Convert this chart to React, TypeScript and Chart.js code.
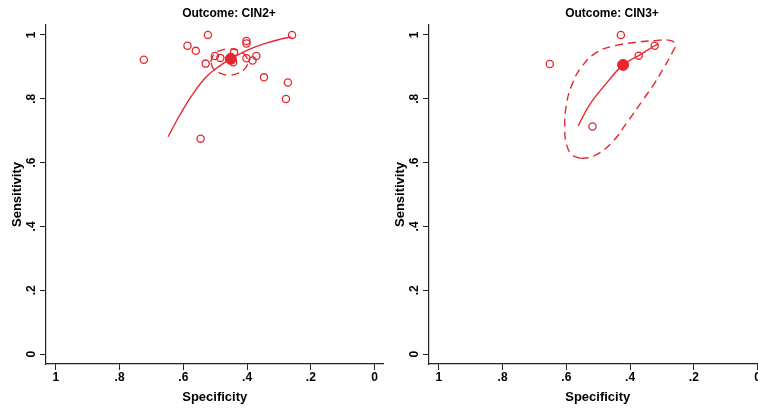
import React, { useEffect, useRef } from "react";
import { Chart, registerables } from "chart.js";

Chart.register(...registerables);

const RED = "#e8262d";
const FONT = "'Liberation Sans', Arial, sans-serif";

const tickValues = [0, 0.2, 0.4, 0.6, 0.8, 1];
const tickLabels = ["0", ".2", ".4", ".6", ".8", "1"];
const panelTitles = ["Outcome: CIN2+", "Outcome: CIN3+"];
const xAxisTitle = "Specificity";
const yAxisTitle = "Sensitivity";

// ---- Outcome: CIN2+ ----
const cin2StudySpec = [0.724, 0.523, 0.587, 0.561, 0.53, 0.501, 0.484, 0.441, 0.444, 0.402, 0.402, 0.402, 0.383, 0.371, 0.347, 0.272, 0.278, 0.259, 0.546];
const cin2StudySens = [0.922, 1.0, 0.966, 0.95, 0.91, 0.934, 0.928, 0.946, 0.914, 0.981, 0.973, 0.927, 0.92, 0.934, 0.867, 0.851, 0.799, 1.0, 0.675];
const cin2SummarySpec = [0.451];
const cin2SummarySens = [0.925];
const cin2CurveSpec = [0.648, 0.611, 0.57, 0.528, 0.486, 0.452, 0.402, 0.35, 0.298, 0.261];
const cin2CurveSens = [0.681, 0.749, 0.815, 0.869, 0.903, 0.925, 0.951, 0.971, 0.986, 0.994];
const cin2RegionSpec = [0.514, 0.506, 0.485, 0.456, 0.427, 0.406, 0.398, 0.406, 0.427, 0.456, 0.485, 0.506, 0.514];
const cin2RegionSens = [0.915, 0.936, 0.951, 0.956, 0.951, 0.936, 0.915, 0.895, 0.88, 0.874, 0.88, 0.895, 0.915];

// ---- Outcome: CIN3+ ----
const cin3StudySpec = [0.429, 0.652, 0.373, 0.323, 0.518];
const cin3StudySens = [1.0, 0.909, 0.935, 0.966, 0.713];
const cin3SummarySpec = [0.422];
const cin3SummarySens = [0.906];
const cin3CurveSpec = [0.563, 0.527, 0.474, 0.422, 0.373, 0.323, 0.312];
const cin3CurveSens = [0.715, 0.781, 0.849, 0.906, 0.935, 0.966, 0.972];
const cin3RegionSpec = [0.556, 0.584, 0.6, 0.605, 0.6, 0.582, 0.552, 0.505, 0.448, 0.386, 0.323, 0.275, 0.258, 0.266, 0.292, 0.323, 0.36, 0.41, 0.46, 0.515, 0.556];
const cin3RegionSens = [0.613, 0.626, 0.66, 0.71, 0.78, 0.845, 0.9, 0.945, 0.966, 0.976, 0.982, 0.983, 0.97, 0.948, 0.901, 0.849, 0.796, 0.725, 0.66, 0.62, 0.613];

const zip = (xs: number[], ys: number[]) => xs.map((x, i) => ({ x, y: ys[i] }));

type PanelProps = {
  title: string;
  studySpec: number[];
  studySens: number[];
  summarySpec: number[];
  summarySens: number[];
  curveSpec: number[];
  curveSens: number[];
  regionSpec: number[];
  regionSens: number[];
  left: number;
};

const W = 390;
const H = 412;

function Panel(p: PanelProps) {
  const ref = useRef<HTMLCanvasElement | null>(null);
  useEffect(() => {
    if (!ref.current) return;
    const textPlugin = {
      id: "stataText",
      afterDraw(chart: any) {
        const ctx = chart.ctx;
        const xs = chart.scales.x;
        const ys = chart.scales.y;
        const ca = chart.chartArea;
        ctx.save();
        ctx.fillStyle = "#000";
        ctx.textAlign = "center";
        ctx.textBaseline = "middle";
        ctx.font = `bold 12px ${FONT}`;
        tickValues.forEach((v, i) => {
          const px = xs.getPixelForValue(v);
          ctx.fillText(tickLabels[i], px, 378);
        });
        tickValues.forEach((v, i) => {
          const py = ys.getPixelForValue(v);
          ctx.save();
          ctx.translate(32, py);
          ctx.rotate(-Math.PI / 2);
          ctx.fillText(tickLabels[i], 0, 0);
          ctx.restore();
        });
        ctx.font = `bold 13px ${FONT}`;
        ctx.fillText(xAxisTitle, (ca.left + ca.right) / 2, 397);
        ctx.save();
        ctx.translate(17, (ca.top + ca.bottom) / 2);
        ctx.rotate(-Math.PI / 2);
        ctx.fillText(yAxisTitle, 0, 0);
        ctx.restore();
        ctx.font = `bold 12px ${FONT}`;
        ctx.fillText(p.title, 229, 14);
        ctx.restore();
      },
    };
    const axisCommon = {
      type: "linear" as const,
      afterBuildTicks: (s: any) => {
        s.ticks = tickValues.map((v) => ({ value: v }));
      },
      ticks: { display: false },
      grid: {
        display: true,
        drawOnChartArea: false,
        drawTicks: true,
        tickLength: 6,
        color: "#222",
        lineWidth: 1,
      },
      border: { display: true, color: "#222", width: 1.2 },
    };
    const chart = new Chart(ref.current, {
      type: "scatter",
      data: {
        datasets: [
          {
            data: zip(p.regionSpec, p.regionSens),
            showLine: true,
            borderColor: RED,
            borderWidth: 1.4,
            borderDash: [8, 5],
            tension: 0.45,
            pointRadius: 0,
            fill: false,
          },
          {
            data: zip(p.curveSpec, p.curveSens),
            showLine: true,
            borderColor: RED,
            borderWidth: 1.4,
            tension: 0.4,
            pointRadius: 0,
            fill: false,
          },
          {
            data: zip(p.studySpec, p.studySens),
            showLine: false,
            pointRadius: 3.6,
            pointBorderWidth: 1.3,
            pointBorderColor: RED,
            pointBackgroundColor: "rgba(255,255,255,0)",
          },
          {
            data: zip(p.summarySpec, p.summarySens),
            showLine: false,
            pointRadius: 5.5,
            pointBorderWidth: 1,
            pointBorderColor: RED,
            pointBackgroundColor: RED,
          },
        ],
      },
      options: {
        responsive: false,
        maintainAspectRatio: false,
        animation: false,
        layout: { padding: { top: 25, right: W - 384, left: 0, bottom: 0 } },
        plugins: { legend: { display: false }, tooltip: { enabled: false } },
        scales: {
          x: {
            ...axisCommon,
            reverse: true,
            min: -0.028,
            max: 1.031,
            afterFit: (s: any) => {
              s.height = H - 364;
            },
          },
          y: {
            ...axisCommon,
            min: -0.031,
            max: 1.031,
            afterFit: (s: any) => {
              s.width = 46;
            },
          },
        },
      },
      plugins: [textPlugin],
    } as any);
    return () => chart.destroy();
  }, []);
  return (
    <canvas
      ref={ref}
      width={W}
      height={H}
      style={{ position: "absolute", left: p.left, top: 0, width: W, height: H }}
    />
  );
}

export default function App() {
  return (
    <div
      style={{
        position: "fixed",
        left: 0,
        top: 0,
        width: 758,
        height: 412,
        overflow: "hidden",
        background: "#fff",
      }}
    >
      <Panel
        title={panelTitles[0]}
        studySpec={cin2StudySpec}
        studySens={cin2StudySens}
        summarySpec={cin2SummarySpec}
        summarySens={cin2SummarySens}
        curveSpec={cin2CurveSpec}
        curveSens={cin2CurveSens}
        regionSpec={cin2RegionSpec}
        regionSens={cin2RegionSens}
        left={0}
      />
      <Panel
        title={panelTitles[1]}
        studySpec={cin3StudySpec}
        studySens={cin3StudySens}
        summarySpec={cin3SummarySpec}
        summarySens={cin3SummarySens}
        curveSpec={cin3CurveSpec}
        curveSens={cin3CurveSens}
        regionSpec={cin3RegionSpec}
        regionSens={cin3RegionSens}
        left={383}
      />
    </div>
  );
}
